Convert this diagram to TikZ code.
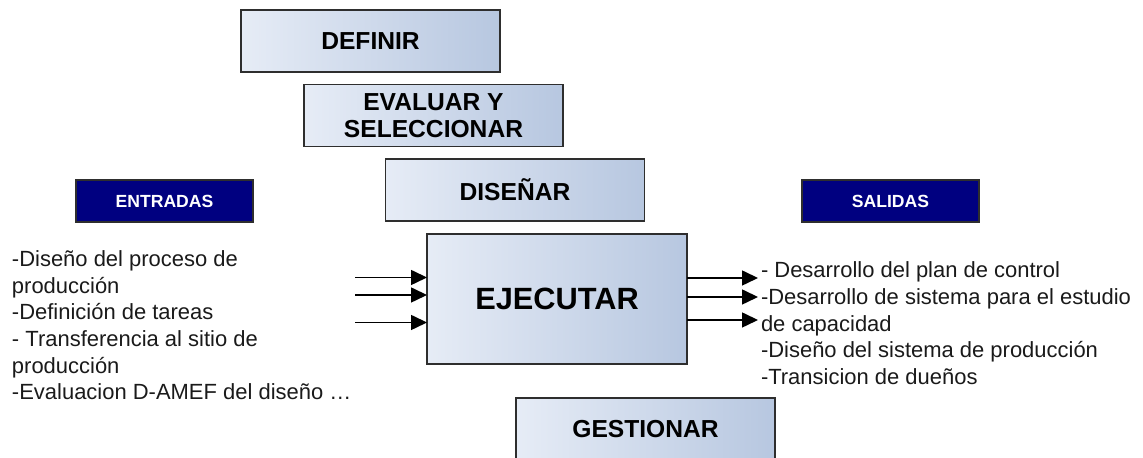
\documentclass[tikz,border=0pt]{standalone}
\usepackage{fontspec}
\setmainfont{Liberation Sans}
\usetikzlibrary{arrows.meta}

\definecolor{boxleft}{HTML}{E6ECF6}
\definecolor{boxright}{HTML}{B7C7E0}
\definecolor{boxline}{HTML}{2E2E2E}
\definecolor{navy}{HTML}{000080}
\definecolor{ink}{HTML}{1A1A1A}

\begin{document}
\begin{tikzpicture}[every node/.style={outer sep=0pt}]

\tikzstyle{phase}=[draw=boxline,line width=0.9pt,left color=boxleft,right color=boxright,minimum width=5.18cm,minimum height=1.24cm,align=center,font=\bfseries\fontsize{14}{16}\selectfont];
\tikzstyle{banner}=[fill=navy,draw=boxline,line width=0.6pt,minimum width=3.54cm,minimum height=0.84cm,text=white,font=\bfseries\fontsize{10}{12}\selectfont];
\tikzstyle{list}=[anchor=base west,align=left,inner sep=0pt,text=ink,font=\fontsize{12.5}{15.2}\selectfont];
\tikzstyle{flow}=[line width=0.9pt,-{Triangle[length=0.32cm,width=0.3cm]}];

\useasboundingbox (0,0) rectangle (22.86,9.16);

% the five phases
\node[phase] (def) at (7.41,8.34) {DEFINIR};
\node[phase] (eval) at (8.67,6.85) {EVALUAR Y\\[-1pt]SELECCIONAR};
\node[phase] (dis) at (10.30,5.36) {DISE\~NAR};
\node[phase,minimum width=5.2cm,minimum height=2.6cm,font=\bfseries\fontsize{17.5}{20}\selectfont] (ejec) at (11.14,3.18) {EJECUTAR};
\node[phase] (gest) at (12.91,0.58) {GESTIONAR};

\node[banner] (ent) at (3.29,5.14) {ENTRADAS};
\node[banner] (sal) at (17.81,5.14) {SALIDAS};

% inputs (base = baseline of the last line)
\node[list] (entlist) at (0.24,1.16) {-Diseño del proceso de\\producción\\-Definición de tareas\\- Transferencia al sitio de\\producción\\-Evaluacion D-AMEF del diseño …};

\coordinate (in1) at (7.10,3.61);
\coordinate (in2) at (7.10,3.26);
\coordinate (in3) at (7.10,2.71);

\draw[flow] (in1) -- (in1 -| ejec.west);
\draw[flow] (in2) -- (in2 -| ejec.west);
\draw[flow] (in3) -- (in3 -| ejec.west);

% outputs
\node[list] (sallist) at (15.22,1.47) {- Desarrollo del plan de control\\-Desarrollo de sistema para el estudio\\de capacidad\\-Diseño del sistema de producción\\-Transicion de dueños};

\coordinate (out1) at (15.16,3.60);
\coordinate (out2) at (15.16,3.22);
\coordinate (out3) at (15.16,2.76);

\draw[flow] (out1 -| ejec.east) -- (out1);
\draw[flow] (out2 -| ejec.east) -- (out2);
\draw[flow] (out3 -| ejec.east) -- (out3);

\end{tikzpicture}
\end{document}
